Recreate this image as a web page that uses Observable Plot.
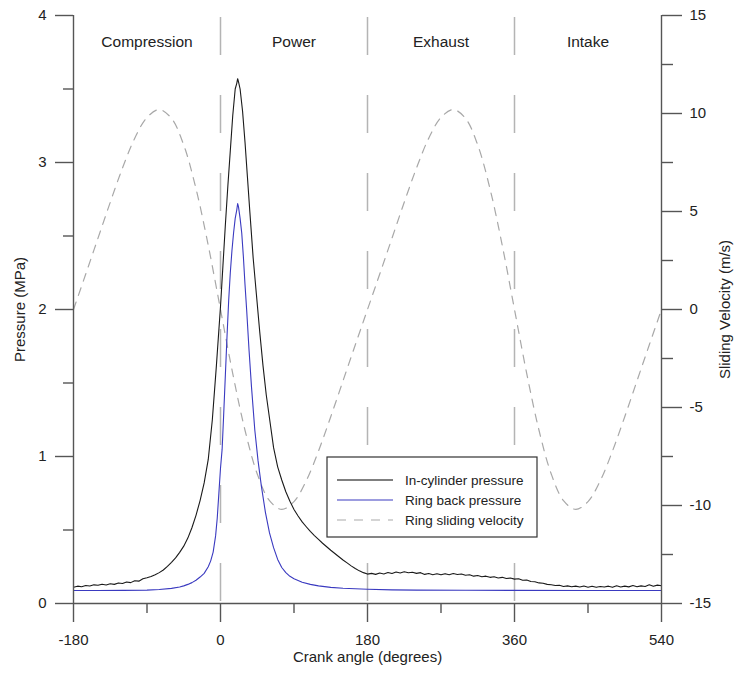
<!DOCTYPE html>
<html>
<head>
<meta charset="utf-8">
<script src="https://cdn.jsdelivr.net/npm/d3@7"></script>
<script src="https://cdn.jsdelivr.net/npm/@observablehq/plot@0.6"></script>
<style>
  html, body { margin: 0; padding: 0; background: #fff; }
  #chart { width: 735px; height: 673px; }
</style>
</head>
<body>
<div id="chart"></div>
<script>
// ---------- data ----------
const cylAngle = [
  -180,-175,-170,-165,-160,-155,-150,-145,-140,-135,-130,-125,-120,-115,-110,-105,-100,-95,-90,-85,-80,-75,-70,-65,-60,-55,-50,-45,-40,-35,-30,-25,-20,-15,-10,-5,
  0,3,6,9,12,15,18,20,21,22,24,27,30,33,36,40,44,48,52,56,60,65,70,75,80,85,90,95,100,105,110,115,120,125,130,135,140,145,150,155,160,165,170,175,
  180,185,190,195,200,205,210,215,220,225,230,235,240,245,250,255,260,265,270,275,280,285,290,295,300,305,310,315,320,325,330,335,340,345,350,355,
  360,365,370,375,380,385,390,395,400,405,410,415,420,425,430,435,440,445,450,455,460,465,470,475,480,485,490,495,500,505,510,515,520,525,530,535,540
];
const cylPressure = [
  0.110,0.118,0.114,0.122,0.119,0.127,0.124,0.131,0.126,0.134,0.130,0.140,0.136,0.146,0.142,0.155,0.152,0.168,0.175,0.184,0.196,0.210,0.228,0.252,0.280,0.310,0.348,0.390,0.445,0.515,0.600,0.700,0.820,0.980,1.25,1.62,
  2.02,2.30,2.58,2.84,3.08,3.32,3.50,3.54,3.57,3.55,3.50,3.35,3.14,2.90,2.66,2.35,2.10,1.85,1.62,1.42,1.26,1.06,0.93,0.84,0.76,0.695,0.64,0.595,0.555,0.522,0.49,0.462,0.436,0.41,0.386,0.362,0.34,0.318,0.296,0.276,0.256,0.238,0.222,0.210,
  0.200,0.205,0.198,0.207,0.201,0.211,0.204,0.214,0.208,0.216,0.209,0.213,0.205,0.210,0.198,0.204,0.196,0.202,0.195,0.203,0.196,0.204,0.197,0.201,0.192,0.196,0.186,0.190,0.182,0.186,0.178,0.182,0.174,0.178,0.170,0.173,
  0.166,0.168,0.158,0.160,0.150,0.148,0.140,0.138,0.130,0.128,0.122,0.124,0.116,0.120,0.114,0.118,0.112,0.119,0.111,0.117,0.110,0.116,0.112,0.118,0.110,0.121,0.112,0.118,0.113,0.122,0.114,0.120,0.116,0.128,0.117,0.125,0.121
];
const ringAngle = [
  -180,-150,-120,-90,-75,-60,-50,-45,-40,-35,-30,-25,-20,-15,-12,-9,-6,-4,-2,0,2,4,6,8,10,12,14,16,18,20,21,22,24,26,28,30,32,35,38,42,46,50,55,60,65,70,75,80,85,90,100,110,120,135,150,165,180,210,240,300,360,450,540
];
const ringPressure = [
  0.088,0.088,0.089,0.091,0.095,0.103,0.112,0.120,0.130,0.142,0.158,0.180,0.205,0.250,0.290,0.350,0.460,0.580,0.750,0.920,1.05,1.30,1.56,1.82,2.06,2.25,2.40,2.52,2.62,2.68,2.72,2.70,2.62,2.52,2.36,2.17,2.00,1.72,1.47,1.18,0.97,0.80,0.62,0.48,0.38,0.30,0.245,0.21,0.185,0.168,0.145,0.130,0.120,0.110,0.104,0.100,0.097,0.093,0.091,0.090,0.089,0.088,0.088
];
const velAngle = [
  -180,-165,-150,-135,-120,-105,-90,-75,-60,-45,-30,-15,0,15,30,45,60,75,90,105,120,135,150,165,
  180,195,210,225,240,255,270,285,300,315,330,345,360,375,390,405,420,435,450,465,480,495,510,525,540
];
const velValues = [
  0,1.81,3.64,5.47,7.22,8.74,9.80,10.20,9.75,8.39,6.16,3.27,0,-3.27,-6.16,-8.39,-9.75,-10.20,-9.80,-8.74,-7.22,-5.47,-3.64,-1.81,
  0,1.81,3.64,5.47,7.22,8.74,9.80,10.20,9.75,8.39,6.16,3.27,0,-3.27,-6.16,-8.39,-9.75,-10.20,-9.80,-8.74,-7.22,-5.47,-3.64,-1.81,0
];
const phaseNames = ["Compression", "Power", "Exhaust", "Intake"];
const phaseCenters = [-90, 90, 270, 450];
const phaseBounds = [0, 180, 360];
const xMajor = [-180, 0, 180, 360, 540];
const xMinor = [-90, 90, 270, 450];
const pMajor = [0, 1, 2, 3, 4];
const pMinor = [0.5, 1.5, 2.5, 3.5];
const vMajor = [-15, -10, -5, 0, 5, 10, 15];
const vMinor = [-12.5, -7.5, -2.5, 2.5, 7.5, 12.5];
const legendLabels = ["In-cylinder pressure", "Ring back pressure", "Ring sliding velocity"];

// velocity (m/s) shares the pressure scale: -15..15 -> 0..4
const toP = v => (v + 15) / 30 * 4;
const fromP = p => p / 4 * 30 - 15;

const cyl = cylAngle.map((a, i) => ({a, p: cylPressure[i]}));
const ring = ringAngle.map((a, i) => ({a, p: ringPressure[i]}));
const vel = velAngle.map((a, i) => ({a, p: toP(velValues[i])}));

const axisColor = "#555";
const textColor = "#222";
const FONT = "'Liberation Sans', Arial, sans-serif";

const svg = Plot.plot({
  width: 735,
  height: 673,
  marginLeft: 73,
  marginRight: 74,
  marginTop: 15,
  marginBottom: 70,
  style: {fontFamily: FONT, fontSize: "15px", color: textColor, background: "#fff"},
  x: {domain: [-180, 540], axis: null},
  y: {domain: [0, 4], axis: null},
  marks: [
    // phase boundaries
    Plot.ruleX(phaseBounds, {stroke: "#b4b4b4", strokeWidth: 1.5, strokeDasharray: "38,40", strokeDashoffset: -2}),
    // phase labels
    Plot.text(phaseNames, {x: (d, i) => phaseCenters[i], frameAnchor: "top", dy: 20, fontSize: 15.5, fill: textColor}),
    // curves
    Plot.line(vel, {x: "a", y: "p", stroke: "#a8a8a8", strokeWidth: 1.2, strokeDasharray: "8,7", curve: "catmull-rom"}),
    Plot.line(cyl, {x: "a", y: "p", stroke: "#1a1a1a", strokeWidth: 1.1}),
    Plot.line(ring, {x: "a", y: "p", stroke: "#3a3ac0", strokeWidth: 1.1}),
    // axis lines
    Plot.ruleX([-180, 540], {stroke: axisColor, strokeWidth: 1.4}),
    Plot.ruleY([0], {stroke: axisColor, strokeWidth: 1.4}),
    // x axis
    Plot.axisX(xMajor, {anchor: "bottom", tickSize: 19, tickPadding: 12, stroke: axisColor, fill: textColor, strokeWidth: 1.4, fontSize: 15, tickFormat: d => String(d), label: null}),
    Plot.axisX(xMinor, {anchor: "bottom", tickSize: 10, stroke: axisColor, strokeWidth: 1.4, text: null, label: null}),
    // left axis
    Plot.axisY(pMajor, {anchor: "left", tickSize: 18, tickPadding: 9, stroke: axisColor, fill: textColor, strokeWidth: 1.4, fontSize: 15, tickFormat: d => String(d), label: null}),
    Plot.axisY(pMinor, {anchor: "left", tickSize: 10, stroke: axisColor, strokeWidth: 1.4, text: null, label: null}),
    // right axis (velocity)
    Plot.axisY(vMajor.map(toP), {anchor: "right", tickSize: 20, tickPadding: 8, stroke: axisColor, fill: textColor, strokeWidth: 1.4, fontSize: 15, tickFormat: d => String(Math.round(fromP(d))), label: null}),
    Plot.axisY(vMinor.map(toP), {anchor: "right", tickSize: 11, stroke: axisColor, strokeWidth: 1.4, text: null, label: null}),
    // axis titles
    Plot.text(["Crank angle (degrees)"], {frameAnchor: "bottom", dy: 58, fontSize: 15, fill: textColor}),
    Plot.text(["Pressure (MPa)"], {frameAnchor: "left", textAnchor: "middle", dx: -53, rotate: -90, fontSize: 15, fill: textColor}),
    Plot.text(["Sliding Velocity (m/s)"], {frameAnchor: "right", textAnchor: "middle", dx: 64, rotate: -90, fontSize: 15, fill: textColor})
  ]
});

// legend box
const g = d3.select(svg).append("g").attr("font-family", FONT).attr("font-size", 13.5).attr("text-anchor", "start");
g.append("rect").attr("x", 327).attr("y", 457).attr("width", 210).attr("height", 80)
  .attr("fill", "#fff").attr("stroke", "#333").attr("stroke-width", 1.2);
const legendStyles = [
  {stroke: "#555", dash: null, w: 1.6},
  {stroke: "#3a3ac0", dash: null, w: 1.2},
  {stroke: "#aaa", dash: "9,8", w: 1.2}
];
legendLabels.forEach((lab, i) => {
  const y = 480 + i * 20;
  const s = legendStyles[i];
  const ln = g.append("line").attr("x1", 337).attr("x2", 393).attr("y1", y).attr("y2", y)
    .attr("stroke", s.stroke).attr("stroke-width", s.w);
  if (s.dash) ln.attr("stroke-dasharray", s.dash);
  g.append("text").attr("x", 405).attr("y", y).attr("dy", "0.35em").attr("text-anchor", "start")
    .attr("fill", textColor).text(lab);
});

document.getElementById("chart").appendChild(svg);
</script>
</body>
</html>
